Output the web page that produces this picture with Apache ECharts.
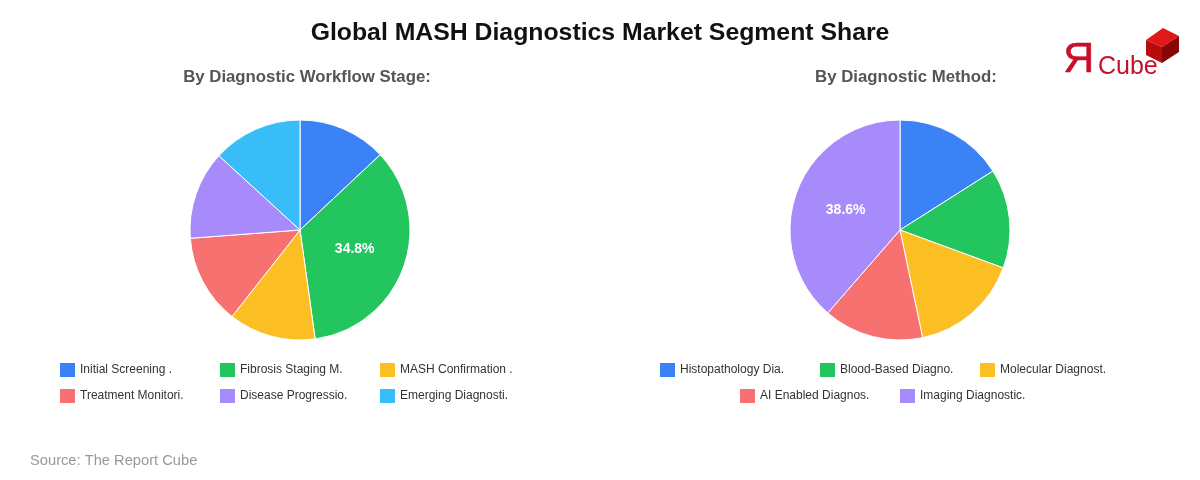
<!DOCTYPE html>
<html>
<head>
<meta charset="utf-8">
<script src="https://cdn.jsdelivr.net/npm/echarts@6/dist/echarts.min.js"></script>
<style>html,body{margin:0;padding:0;background:#fff}#c{width:1200px;height:480px}</style>
</head>
<body>
<div id="c"></div>
<script>
const stageNames = ["Initial Screening .", "Fibrosis Staging M.", "MASH Confirmation .", "Treatment Monitori.", "Disease Progressio.", "Emerging Diagnosti."];
const stageValues = [13.0, 34.8, 12.8, 13.2, 13.0, 13.2];
const methodNames = ["Histopathology Dia.", "Blood-Based Diagno.", "Molecular Diagnost.", "AI Enabled Diagnos.", "Imaging Diagnostic."];
const methodValues = [16.0, 14.6, 16.1, 14.7, 38.6];
const stageColors = ["#3b82f6", "#22c55e", "#fbbf24", "#f87171", "#a78bfa", "#38bdf8"];
const methodColors = ["#3b82f6", "#22c55e", "#fbbf24", "#f87171", "#a78bfa"];

const FONT = "'Liberation Sans', Arial, sans-serif";
const chart = echarts.init(document.getElementById('c'));

function mkData(names, values, colors) {
  return names.map((n, i) => ({ name: n, value: values[i], itemStyle: { color: colors[i] } }));
}
function legendItem(name, left, top) {
  return {
    data: [name], left: left, top: top, orient: 'horizontal',
    itemWidth: 15, itemHeight: 14, itemGap: 0, icon: 'rect',
    itemStyle: { borderWidth: 0 },
    textStyle: { fontFamily: FONT, fontSize: 12, color: '#333' }
  };
}
// legend layout: rows of 3, each item 160px wide; rows centred under each pie
function legendGrid(names, centerX) {
  const out = [];
  for (let r = 0; r * 3 < names.length; r++) {
    const row = names.slice(r * 3, r * 3 + 3);
    const x0 = centerX - row.length * 80;
    row.forEach((n, i) => out.push(legendItem(n, x0 + i * 160 - 5, 358 + r * 26)));
  }
  return out;
}
function pieSeries(center, names, values, colors) {
  return {
    type: 'pie', center: center, radius: 110, startAngle: 90, clockwise: true,
    data: mkData(names, values, colors),
    itemStyle: { borderColor: '#fff', borderWidth: 1 },
    label: {
      show: true, position: 'inside', color: '#fff', fontFamily: FONT, fontSize: 14, fontWeight: 'bold',
      formatter: p => p.value >= 20 ? p.value.toFixed(1) + '%' : ''
    },
    labelLine: { show: false },
    emphasis: { disabled: true },
    animation: false
  };
}

chart.setOption({
  animation: false,
  title: [
    { text: 'Global MASH Diagnostics Market Segment Share', left: 'center', top: 16,
      textStyle: { fontFamily: FONT, fontSize: 24.8, fontWeight: 'bold', color: '#111' } },
    { text: 'By Diagnostic Workflow Stage:', left: 302, top: 64, textAlign: 'center',
      textStyle: { fontFamily: FONT, fontSize: 16.8, fontWeight: 'bold', color: '#555' } },
    { text: 'By Diagnostic Method:', left: 901, top: 64, textAlign: 'center',
      textStyle: { fontFamily: FONT, fontSize: 16.8, fontWeight: 'bold', color: '#555' } },
    { text: 'Source: The Report Cube', left: 25, top: 448,
      textStyle: { fontFamily: FONT, fontSize: 14.7, fontWeight: 'normal', color: '#999' } }
  ],
  legend: legendGrid(stageNames, 300).concat(legendGrid(methodNames, 900)),
  series: [
    pieSeries([300, 230], stageNames, stageValues, stageColors),
    pieSeries([900, 230], methodNames, methodValues, methodColors)
  ],
  graphic: [
    { type: 'text', left: 1063, top: 38, style: { text: 'Я', font: '43px ' + FONT, fill: '#c8102e', stroke: '#c8102e', lineWidth: 0.6 } },
    { type: 'text', left: 1098, top: 55, style: { text: 'Cube', font: '25px ' + FONT, fill: '#c8102e' } },
    { type: 'polygon', shape: { points: [[1146,40],[1163,28],[1179,36],[1162,47]] }, style: { fill: '#e01818' } },
    { type: 'polygon', shape: { points: [[1146,40],[1162,47],[1162,63],[1146,55]] }, style: { fill: '#b80c0c' } },
    { type: 'polygon', shape: { points: [[1162,47],[1179,36],[1179,52],[1162,63]] }, style: { fill: '#8a0606' } }
  ]
});
</script>
</body>
</html>
